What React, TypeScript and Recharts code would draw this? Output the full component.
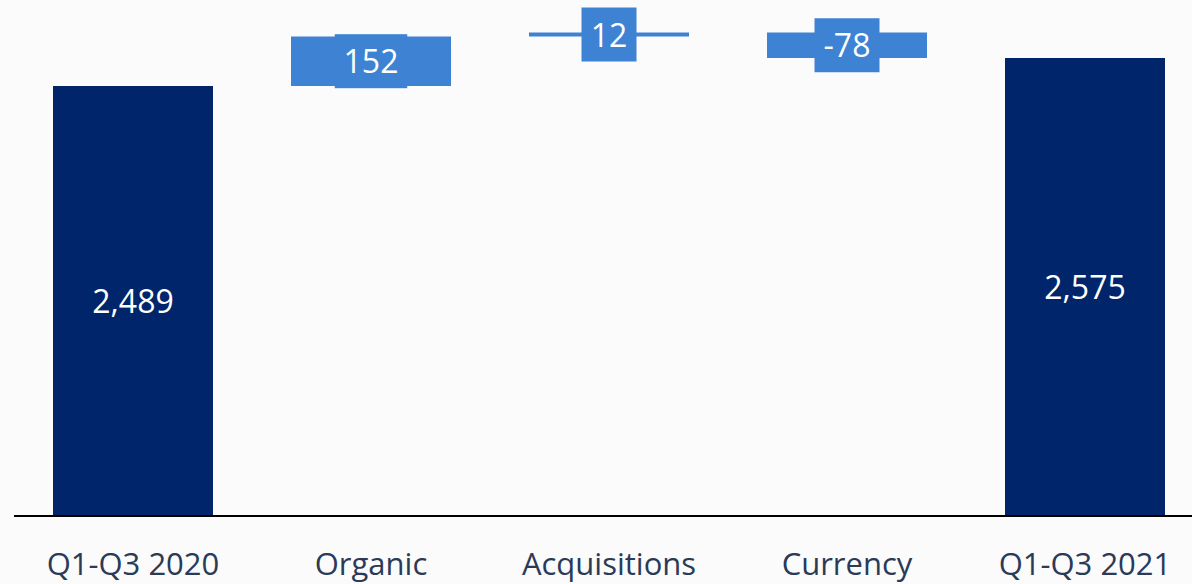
import { BarChart, Bar, XAxis, YAxis, Cell, LabelList } from 'recharts';

// Waterfall: starting total, three bridges, ending total
const categories = ['Q1-Q3 2020', 'Organic', 'Acquisitions', 'Currency', 'Q1-Q3 2021'];
const values = [2489, 152, 12, -78, 2575];
const isTotal = [true, false, false, false, true];

// value axis is cut off below (chart does not start at zero)
const Y_MIN = 1168;
const Y_MAX = 2753;

const TOTAL_COLOR = '#00256a';
const STEP_COLOR = '#3e82d3';
const TEXT_COLOR = '#2a3a57';
const FONT = '"Open Sans", sans-serif';

let running = 0;
const chartData = categories.map((name, i) => {
  const v = values[i];
  if (isTotal[i]) {
    running = v;
    return { name, range: [Y_MIN, v], label: v.toLocaleString('en-US'), total: true };
  }
  const start = running;
  running += v;
  return {
    name,
    range: [Math.min(start, running), Math.max(start, running)],
    label: String(v),
    total: false,
  };
});

function ValueLabel(props: any) {
  const { x, y, width, height, value, index } = props;
  const cx = x + width / 2;
  const cy = y + height / 2;
  if (chartData[index].total) {
    return (
      <text x={cx} y={cy + 12} textAnchor="middle" fill="#ffffff" fontSize={32} fontFamily={FONT}>
        {value}
      </text>
    );
  }
  const str = String(value);
  const digits = str.replace(/[^0-9]/g, '').length;
  const boxW = digits * 17.5 + (str.length - digits) * 10 + 20;
  const boxH = 54;
  return (
    <g>
      <rect x={cx - boxW / 2} y={cy - boxH / 2} width={boxW} height={boxH} fill={STEP_COLOR} />
      <text x={cx} y={cy + 12} textAnchor="middle" fill="#ffffff" fontSize={32} fontFamily={FONT}>
        {value}
      </text>
    </g>
  );
}

export default function App() {
  return (
    <div
      style={{
        position: 'absolute',
        left: 0,
        top: 0,
        width: 1192,
        height: 584,
        overflow: 'hidden',
        background: '#fbfbfb',
        fontFamily: FONT,
      }}
    >
      <BarChart
        width={1210}
        height={584}
        data={chartData}
        margin={{ top: 0, right: 6, left: 14, bottom: 0 }}
      >
        <XAxis
          dataKey="name"
          interval={0}
          height={68}
          tickLine={false}
          tickMargin={31}
          axisLine={{ stroke: '#000000', strokeWidth: 2 }}
          tick={{ fontSize: 31, fill: TEXT_COLOR, fontFamily: FONT }}
        />
        <YAxis hide domain={[Y_MIN, Y_MAX]} allowDataOverflow />
        <Bar dataKey="range" barSize={160} isAnimationActive={false}>
          {chartData.map((d, i) => (
            <Cell key={`c-${i}`} fill={d.total ? TOTAL_COLOR : STEP_COLOR} />
          ))}
          <LabelList dataKey="label" content={<ValueLabel />} />
        </Bar>
      </BarChart>
    </div>
  );
}
